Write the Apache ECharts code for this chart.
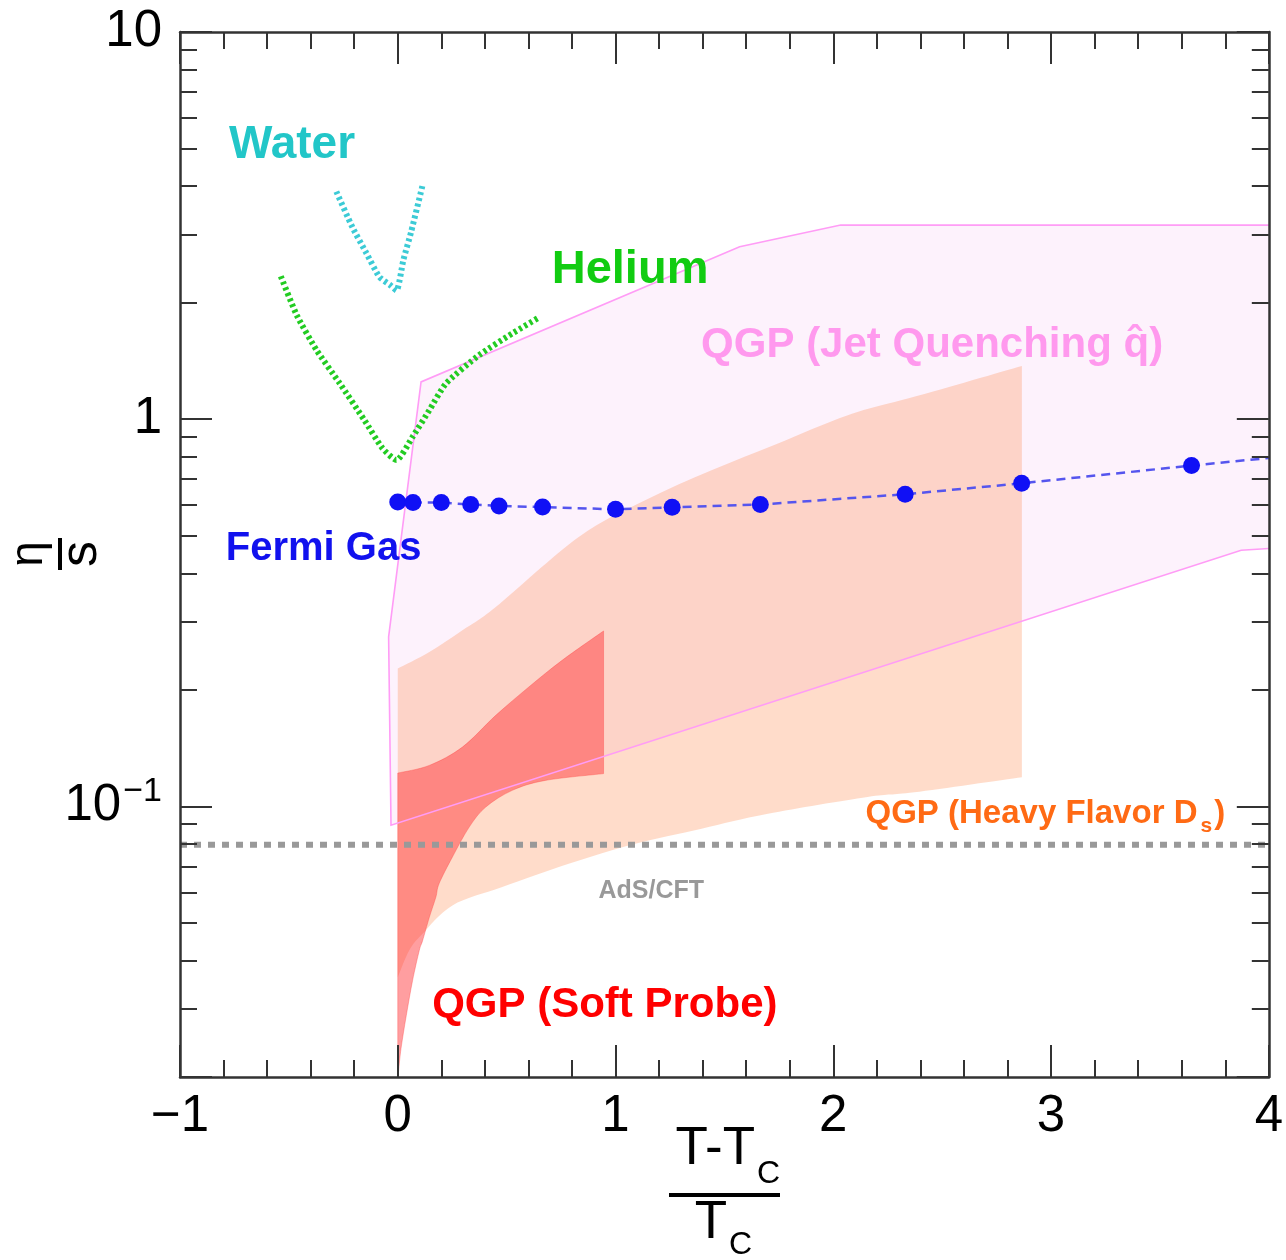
<!DOCTYPE html>
<html><head><meta charset="utf-8">
<script src="https://cdn.jsdelivr.net/npm/echarts@6/dist/echarts.min.js"></script>
<style>html,body{margin:0;padding:0;background:#fff}#c{width:1286px;height:1260px}</style>
</head><body><div id="c"></div>
<script>
// ---------------- data ----------------
const xTickLabels = ['\u22121', '0', '1', '2', '3', '4'];
const yTickLabels = { '1': '10', '0': '1', '-1': '{a|10}{b|\u22121}' };

// Fermi gas points
const fermiX = [0.0, 0.07, 0.2, 0.335, 0.465, 0.665, 1.0, 1.26, 1.665, 2.33, 2.865, 3.645];
const fermiY = [0.611, 0.609, 0.609, 0.602, 0.597, 0.593, 0.585, 0.592, 0.602, 0.640, 0.683, 0.759];
// dashed guide line continues to the right edge
const fermiLineEndX = 4.0;
const fermiLineEndY = 0.794;

// Water
const waterX = [-0.282, -0.208, -0.145, -0.084, -0.035, -0.006, 0.026, 0.061, 0.113];
const waterY = [3.87, 3.13, 2.69, 2.33, 2.22, 2.15, 2.58, 3.04, 4.0];

// Helium
const heliumX = [-0.537, -0.464, -0.373, -0.267, -0.153, -0.070, -0.006, 0.068, 0.145, 0.221, 0.373, 0.526, 0.648];
const heliumY = [2.34, 1.857, 1.508, 1.239, 0.994, 0.841, 0.784, 0.900, 1.055, 1.236, 1.463, 1.665, 1.831];

// QGP jet quenching region outline (starting at lower right, going around)
const jetX = [4.0, 3.873, -0.031, -0.042, 0.107, 1.570, 2.034, 4.0];
const jetY = [0.4634, 0.4586, 0.0894, 0.274, 1.248, 2.787, 3.172, 3.172];

// QGP heavy flavor Ds band
const dsUpperX = [0, 0.145, 0.297, 0.450, 0.831, 1.136, 1.441, 1.746, 2.067, 2.371, 2.866];
const dsUpperY = [0.2269, 0.2504, 0.2850, 0.3273, 0.4964, 0.6175, 0.738, 0.8655, 1.024, 1.142, 1.373];
const dsLowerX = [0, 0.053, 0.114, 0.251, 0.48, 0.785, 1.09, 1.395, 1.70, 2.157, 2.372, 2.866];
const dsLowerY = [0.0362, 0.0425, 0.0469, 0.0555, 0.0619, 0.0711, 0.0801, 0.0876, 0.0957, 0.1057, 0.1087, 0.1189];

// QGP soft probe band
const softUpperX = [0, 0.145, 0.297, 0.450, 0.602, 0.755, 0.945];
const softUpperY = [0.1219, 0.1276, 0.1423, 0.1718, 0.2034, 0.2384, 0.2838];
const softLowerX = [0, 0.004, 0.015, 0.039, 0.068, 0.099, 0.114, 0.145, 0.175, 0.190, 0.251, 0.328, 0.404, 0.526, 0.678, 0.945];
const softLowerY = [0.02, 0.0208, 0.0237, 0.0288, 0.0355, 0.0425, 0.0450, 0.0517, 0.0583, 0.0632, 0.0740, 0.0884, 0.0996, 0.1100, 0.1167, 0.1215];

// AdS/CFT bound 1/(4 pi)
const adsX = [-1, 4];
const adsY = [0.0796, 0.0796];

// annotation texts (anchored in data coordinates: left edge, vertical middle)
const noteText = ['Water', 'Helium', 'QGP (Jet Quenching q\u0302)', 'Fermi Gas', 'HF', 'AdS/CFT', 'QGP (Soft Probe)'];
const noteX = [-0.775, 0.707, 1.393, -0.790, 2.148, 0.922, 0.158];
const noteY = [5.10, 2.43, 1.553, 0.4613, 0.0959, 0.0603, 0.0306];

// ---------------- styles ----------------
const FONT = '"Liberation Sans", Arial, Helvetica, sans-serif';
const noteStyle = [
  { color: '#22c6c8', size: 46 },
  { color: '#11cc11', size: 47 },
  { color: '#ff99ee', size: 42 },
  { color: '#1111ee', size: 40 },
  { color: '#ff6a14', size: 33 },
  { color: '#999999', size: 25 },
  { color: '#ff0000', size: 42 }
];

const zip = (xs, ys) => xs.map((x, i) => [x, ys[i]]);

// smooth (Catmull-Rom) path through screen points
function smoothSegs(pts) {
  let d = '';
  for (let i = 0; i < pts.length - 1; i++) {
    const p0 = pts[i - 1] || pts[i], p1 = pts[i], p2 = pts[i + 1], p3 = pts[i + 2] || pts[i + 1];
    const c1x = p1[0] + (p2[0] - p0[0]) / 6, c1y = p1[1] + (p2[1] - p0[1]) / 6;
    const c2x = p2[0] - (p3[0] - p1[0]) / 6, c2y = p2[1] - (p3[1] - p1[1]) / 6;
    d += ' C' + c1x + ',' + c1y + ' ' + c2x + ',' + c2y + ' ' + p2[0] + ',' + p2[1];
  }
  return d;
}
function bandSeries(ux, uy, lx, ly, style, z) {
  const upper = zip(ux, uy), lower = zip(lx, ly);
  return {
    type: 'custom', data: upper.concat(lower), z: z, silent: true, clip: true,
    encode: { x: 0, y: 1 },
    renderItem: function (params, api) {
      if (params.dataIndex !== 0) return null;
      const u = upper.map(p => api.coord(p));
      const l = lower.map(p => api.coord(p)).reverse();
      const d = 'M' + u[0][0] + ',' + u[0][1] + smoothSegs(u) +
        ' L' + l[0][0] + ',' + l[0][1] + smoothSegs(l) + ' Z';
      return { type: 'path', shape: { pathData: d }, style: style };
    }
  };
}
function polySeries(points, style, z, closed) {
  return {
    type: 'custom', data: points, z: z, silent: true, clip: true,
    encode: { x: 0, y: 1 },
    renderItem: function (params, api) {
      if (params.dataIndex !== 0) return null;
      const pts = points.map(p => api.coord(p));
      return { type: closed ? 'polygon' : 'polyline', shape: { points: pts }, style: style };
    }
  };
}

const axisLineStyle = { color: '#333', width: 2.5 };
const tickStyle = { color: '#333', width: 2 };
function xAx(pos, showLabel) {
  return {
    type: 'value', position: pos, min: -1, max: 4, interval: 1, z: 10,
    axisLine: { show: true, onZero: false, lineStyle: axisLineStyle },
    axisTick: { show: true, inside: true, length: 32, lineStyle: tickStyle },
    minorTick: { show: true, splitNumber: 5, length: 17, lineStyle: tickStyle },
    splitLine: { show: false }, minorSplitLine: { show: false },
    axisLabel: {
      show: showLabel, margin: 14, fontSize: 51, fontFamily: FONT, color: '#000',
      formatter: v => xTickLabels[Math.round(v) + 1]
    }
  };
}
function yAx(pos, showLabel) {
  return {
    type: 'log', logBase: 10, position: pos, min: 0.02, max: 10, z: 10,
    axisLine: { show: true, onZero: false, lineStyle: axisLineStyle },
    axisTick: { show: true, inside: true, length: 32, lineStyle: tickStyle },
    minorTick: { show: true, splitNumber: 9, length: 17, lineStyle: tickStyle },
    splitLine: { show: false }, minorSplitLine: { show: false },
    axisLabel: {
      show: showLabel, margin: 18, fontSize: 51, fontFamily: FONT, color: '#000',
      showMinLabel: false,
      formatter: v => { const e = Math.round(Math.log10(v)); return yTickLabels[String(e)] || ''; },
      rich: {
        a: { fontSize: 51, fontFamily: FONT, color: '#000' },
        b: { fontSize: 34, fontFamily: FONT, color: '#000', padding: [0, 0, 30, 2] }
      }
    }
  };
}

const series = [
  polySeries(zip(jetX, jetY), { fill: '#fdf2fc', stroke: null }, 1, true),
  bandSeries(dsUpperX, dsUpperY, dsLowerX, dsLowerY, { fill: 'rgba(255,140,80,0.30)', stroke: null }, 2),
  bandSeries(softUpperX, softUpperY, softLowerX, softLowerY, { fill: 'rgba(255,40,45,0.45)', stroke: 'rgba(255,60,60,0.35)', lineWidth: 1 }, 3),
  polySeries(zip(jetX, jetY), { fill: null, stroke: '#ff9cf6', lineWidth: 1.6 }, 4, false),
  {
    type: 'line', data: zip(adsX, adsY), symbol: 'none', z: 5, silent: true,
    lineStyle: { color: '#999999', width: 6, type: [7, 7] }
  },
  {
    type: 'line', data: zip(waterX, waterY), symbol: 'none', z: 6, silent: true, smooth: 0.2,
    lineStyle: { color: '#3ccbd6', width: 6, type: [3, 3] }
  },
  {
    type: 'line', data: zip(heliumX, heliumY), symbol: 'none', z: 6, silent: true, smooth: 0.2,
    lineStyle: { color: '#22cc22', width: 6, type: [3, 3] }
  },
  {
    type: 'line', data: zip(fermiX, fermiY).concat([[fermiLineEndX, fermiLineEndY]]), symbol: 'none', z: 7, silent: true,
    lineStyle: { color: '#5555ee', width: 2.5, type: [9, 6] }
  },
  {
    type: 'scatter', data: zip(fermiX, fermiY), symbol: 'circle', symbolSize: 17, z: 8, silent: true,
    itemStyle: { color: '#1010f5', opacity: 1 }
  },
  {
    type: 'custom', data: zip(noteX, noteY), z: 9, silent: true, clip: false,
    encode: { x: 0, y: 1 },
    renderItem: function (params, api) {
      const i = params.dataIndex;
      const p = api.coord([noteX[i], noteY[i]]);
      const st = noteStyle[i];
      const base = { fontSize: st.size, fontWeight: 'bold', fontFamily: FONT, fill: st.color, color: st.color };
      let style;
      if (noteText[i] === 'HF') {
        style = {
          text: '{m|QGP (Heavy Flavor D}{s|s}{m|)}',
          rich: {
            m: Object.assign({}, base, { lineHeight: 46, verticalAlign: 'middle' }),
            s: Object.assign({}, base, { fontSize: 21, lineHeight: 46, verticalAlign: 'bottom', padding: [0, 2, 0, 3] })
          },
          x: 0, y: 0, align: 'left', textAlign: 'left', verticalAlign: 'middle', textVerticalAlign: 'middle'
        };
      } else {
        style = {
          text: noteText[i], font: 'bold ' + st.size + 'px ' + FONT, fill: st.color,
          x: 0, y: 0, align: 'left', textAlign: 'left', verticalAlign: 'middle', textVerticalAlign: 'middle'
        };
      }
      return { type: 'text', x: p[0], y: p[1], style: style };
    }
  }
];

const graphic = [
  // x-axis title: (T - T_C) / T_C
  { type: 'text', x: 755, y: 1149, style: { text: 'T-T', font: '53px ' + FONT, fill: '#000', align: 'right', textAlign: 'right', verticalAlign: 'middle', textVerticalAlign: 'middle' }, z: 20 },
  { type: 'text', x: 757, y: 1174, style: { text: 'C', font: '32px ' + FONT, fill: '#000', align: 'left', textAlign: 'left', verticalAlign: 'middle', textVerticalAlign: 'middle' }, z: 20 },
  { type: 'line', shape: { x1: 669, y1: 1195, x2: 780, y2: 1195 }, style: { stroke: '#000', lineWidth: 4 }, z: 20 },
  { type: 'text', x: 727, y: 1223, style: { text: 'T', font: '53px ' + FONT, fill: '#000', align: 'right', textAlign: 'right', verticalAlign: 'middle', textVerticalAlign: 'middle' }, z: 20 },
  { type: 'text', x: 729, y: 1245, style: { text: 'C', font: '32px ' + FONT, fill: '#000', align: 'left', textAlign: 'left', verticalAlign: 'middle', textVerticalAlign: 'middle' }, z: 20 },
  // y-axis title: eta / s, rotated
  {
    type: 'group', x: 60, y: 554, rotation: Math.PI / 2, z: 20,
    children: [
      { type: 'text', x: 0, y: -31, style: { text: '\u03b7', font: '46px ' + FONT, fill: '#000', align: 'center', textAlign: 'center', verticalAlign: 'middle', textVerticalAlign: 'middle' } },
      { type: 'line', shape: { x1: -16, y1: 0, x2: 16, y2: 0 }, style: { stroke: '#000', lineWidth: 4 } },
      { type: 'text', x: 0, y: 22, style: { text: 's', font: '52px ' + FONT, fill: '#000', align: 'center', textAlign: 'center', verticalAlign: 'middle', textVerticalAlign: 'middle' } }
    ]
  }
];

const chart = echarts.init(document.getElementById('c'), null, { renderer: 'canvas', width: 1286, height: 1260 });
chart.setOption({
  animation: false,
  backgroundColor: '#ffffff',
  grid: { left: 180, top: 32, width: 1092, height: 1045, containLabel: false },
  xAxis: [xAx('bottom', true), xAx('top', false)],
  yAxis: [yAx('left', true), yAx('right', false)],
  series: series,
  graphic: graphic
});
</script>
</body></html>
